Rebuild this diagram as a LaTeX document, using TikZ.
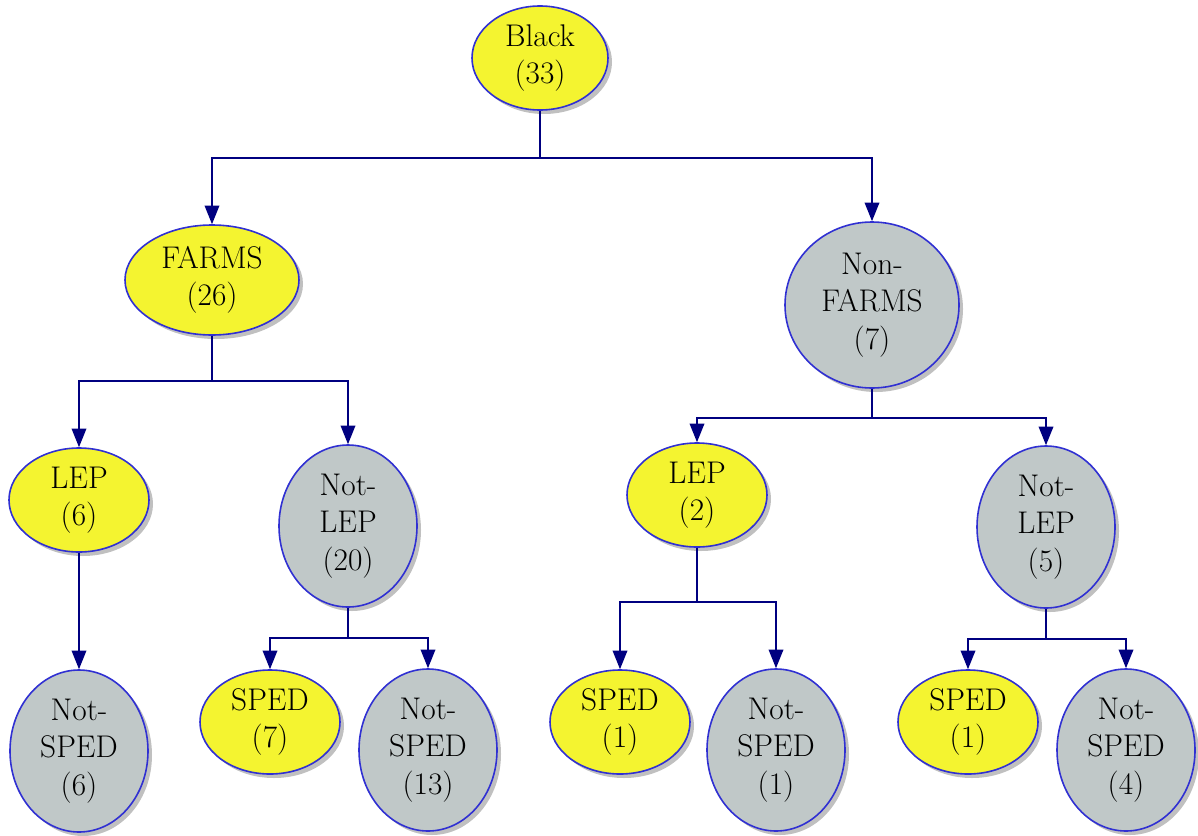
\documentclass[tikz,border=0pt]{standalone}
\usetikzlibrary{shapes.geometric,shadows,arrows.meta}
\definecolor{nodeyellow}{RGB}{244,244,48}
\definecolor{nodegrey}{RGB}{192,200,200}
\definecolor{rimblue}{RGB}{48,48,210}
\definecolor{linkblue}{RGB}{0,0,128}
\tikzset{
  base/.style={ellipse, draw=rimblue, line width=1.2pt, inner sep=0pt, align=center,
    font=\rmfamily\fontsize{23.5}{28}\selectfont,
    drop shadow={shadow xshift=3pt, shadow yshift=-3pt, fill=black!45, opacity=0.55}},
  yel/.style={base, fill=nodeyellow, minimum width=105pt, minimum height=78pt},
  gry/.style={base, fill=nodegrey, minimum width=103.5pt, minimum height=121.5pt},
  link/.style={draw=linkblue, line width=1.1pt},
  arr/.style={link, -{Triangle[width=11pt,length=14pt]}}
}
\begin{document}
\begin{tikzpicture}[x=0.75pt,y=-0.75pt]
\useasboundingbox (0,0) rectangle (1198,835);
% nodes
\node[yel, minimum width=102pt] (black) at (540,58) {Black\\(33)};
\node[yel, minimum width=130.5pt, minimum height=82.5pt] (farms) at (212,280) {FARMS\\(26)};
\node[gry, minimum width=130.5pt, minimum height=124.5pt] (nonfarms) at (872,305) {Non-\\FARMS\\(7)};
\node[yel] (lepa) at (79,500) {LEP\\(6)};
\node[gry] (notlepa) at (348,526) {Not-\\LEP\\(20)};
\node[yel] (lepb) at (697,495) {LEP\\(2)};
\node[gry] (notlepb) at (1046,527) {Not-\\LEP\\(5)};
\node[gry] (nsa) at (79,751) {Not-\\SPED\\(6)};
\node[yel] (spa) at (270,722) {SPED\\(7)};
\node[gry] (nsb) at (428,750) {Not-\\SPED\\(13)};
\node[yel] (spb) at (620,722) {SPED\\(1)};
\node[gry] (nsc) at (776,750) {Not-\\SPED\\(1)};
\node[yel] (spc) at (968,722) {SPED\\(1)};
\node[gry] (nsd) at (1126,750) {Not-\\SPED\\(4)};
% connectors
\draw[link] (black.south) -- ++(0,47) coordinate (j1);
\draw[arr] (j1) -| (farms.north);
\draw[arr] (j1) -| (nonfarms.north);
\draw[link] (farms.south) -- ++(0,45) coordinate (j2);
\draw[arr] (j2) -| (lepa.north);
\draw[arr] (j2) -| (notlepa.north);
\draw[link] (nonfarms.south) -- ++(0,29) coordinate (j3);
\draw[arr] (j3) -| (lepb.north);
\draw[arr] (j3) -| (notlepb.north);
\draw[arr] (lepa.south) -- (nsa.north);
\draw[link] (notlepa.south) -- ++(0,30) coordinate (j4);
\draw[arr] (j4) -| (spa.north);
\draw[arr] (j4) -| (nsb.north);
\draw[link] (lepb.south) -- ++(0,54) coordinate (j5);
\draw[arr] (j5) -| (spb.north);
\draw[arr] (j5) -| (nsc.north);
\draw[link] (notlepb.south) -- ++(0,30) coordinate (j6);
\draw[arr] (j6) -| (spc.north);
\draw[arr] (j6) -| (nsd.north);
\end{tikzpicture}
\end{document}
